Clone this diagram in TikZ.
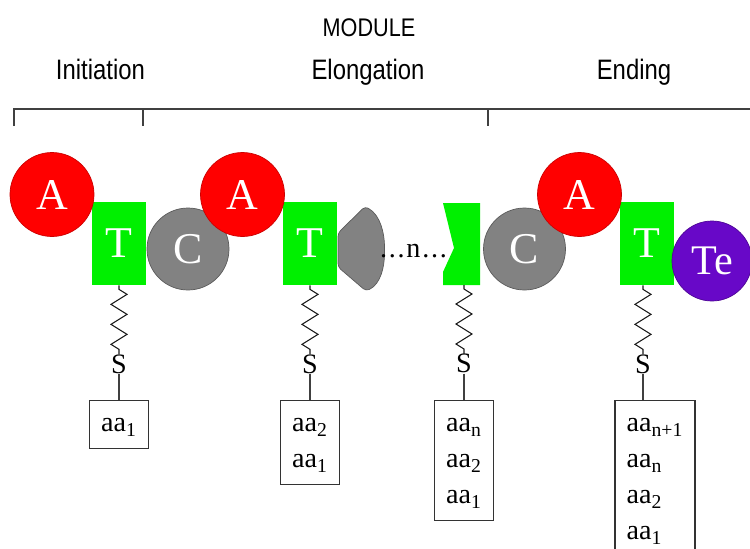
\documentclass[tikz,border=0pt]{standalone}
\usepackage{fontspec}
\setmainfont{Liberation Serif}
\newfontfamily\labelfont[FakeStretch=0.85]{Liberation Sans}
\usepackage{tikz}
\usetikzlibrary{shapes,positioning,decorations.pathmorphing}
\definecolor{domred}{RGB}{255,0,0}
\definecolor{domgreen}{RGB}{0,240,0}
\definecolor{domgray}{RGB}{130,130,130}
\definecolor{dompurple}{RGB}{104,8,200}

\begin{document}
\begin{tikzpicture}[
        adom/.style={circle, fill=domred, draw=domred!80!black, minimum size=1.68cm, inner sep=0pt, text=white, font=\fontsize{25}{25}\selectfont},
        tdom/.style={rectangle, fill=domgreen, minimum width=1.08cm, minimum height=1.66cm, inner sep=0pt, text=white, font=\fontsize{25}{25}\selectfont},
        cdom/.style={circle, fill=domgray, draw=domgray!70!black, minimum size=1.64cm, inner sep=0pt, text=white, font=\fontsize{25}{25}\selectfont},
        tedom/.style={circle, fill=dompurple, draw=dompurple!75!black, minimum size=1.6cm, inner sep=0pt, text=white, font=\fontsize{24}{24}\selectfont},
        header/.style={anchor=base, inner sep=0pt, font=\labelfont\fontsize{16}{19}\selectfont},
        thio/.style={inner sep=0pt, font=\fontsize{16}{16}\selectfont},
        aabox/.style={draw=black!80, line width=0.8pt, inner xsep=0.2cm, inner ysep=0.12cm, minimum width=1.18cm, align=center, font=\fontsize{16}{20.5}\selectfont},
        stem/.style={semithick, black!90, decorate, decoration={zigzag, segment length=0.4cm, amplitude=0.16cm, pre length=0.08cm, post length=0.06cm}},
        tether/.style={thick, black!75},
        bracket/.style={line width=1.1pt, black!75}
    ]
        \clip (0,0) rectangle (15,-10.96);

        % Headers
        \node [header, font=\labelfont\fontsize{14.5}{17}\selectfont] (module) at (7.38,-0.72) {MODULE};
        \node [header] (init) at (2.01,-1.58) {Initiation};
        \node [header] (elong) at (7.36,-1.58) {Elongation};
        \node [header] (ending) at (12.68,-1.58) {Ending};

        % Bracket
        \draw [bracket] (0.28,-2.52) -- (0.28,-2.18) -- (15,-2.18);
        \draw [bracket] (2.86,-2.18) -- (2.86,-2.52);
        \draw [bracket] (9.76,-2.18) -- (9.76,-2.52);

        % Condensation domains
        \node [cdom] (c1) at (3.76,-4.98) {C};
        \node [cdom] (c3) at (10.49,-4.98) {C};
        \draw [fill=domgray, draw=domgray!70!black, rounded corners=2pt] (6.76,-4.66) -- (7.30,-4.13) .. controls (7.62,-4.30) and (7.69,-4.70) .. (7.69,-5.00) .. controls (7.69,-5.32) and (7.62,-5.68) .. (7.32,-5.82) -- (6.76,-5.34) -- cycle;

        % Thiolation domains
        \node [tdom] (t1) at (2.38,-4.87) {T};
        \node [tdom] (t2) at (6.20,-4.87) {T};
        \node [tdom] (t3) at (12.94,-4.87) {T};
        \fill [domgreen] (8.86,-4.06) -- (9.60,-4.06) -- (9.60,-5.70) -- (8.86,-5.70) -- (8.86,-5.44) -- (9.08,-4.96) -- cycle;
        \coordinate (tn) at (9.28,-5.70);

        % Adenylation domains
        \node [adom] (a1) at (1.04,-3.89) {A};
        \node [adom] (a2) at (4.85,-3.89) {A};
        \node [adom] (a3) at (11.59,-3.89) {A};

        % Thioesterase
        \node [tedom] (te) at (14.24,-5.22) {Te};

        % Repeat
        \node [font=\fontsize{16}{16}\selectfont, inner sep=0pt] (dots) at (8.27,-5.02) {.\kern1pt.\kern1pt.\kern1pt n\kern1pt.\kern1pt.\kern1pt.};

        % Thioester links
        \node [thio, below=1.38cm of t1] (s1) {S};
        \node [thio, below=1.38cm of t2] (s2) {S};
        \node [thio, below=1.38cm of tn] (sn) {S};
        \node [thio, below=1.38cm of t3, xshift=-0.08cm] (s3) {S};
        \draw [stem] (t1.south) -- (s1.north);
        \draw [stem] (t2.south) -- (s2.north);
        \draw [stem] (tn) -- (sn.north);
        \draw [stem] (s3.north |- t3.south) -- (s3.north);

        % Peptide chains
        \node [aabox, below=0.52cm of s1] (b1) {\strut aa\textsubscript{1}};
        \node [aabox, below=0.52cm of s2] (b2) {\strut aa\textsubscript{2}\\\strut aa\textsubscript{1}};
        \node [aabox, below=0.52cm of sn] (bn) {\strut aa\textsubscript{n}\\\strut aa\textsubscript{2}\\\strut aa\textsubscript{1}};
        \node [aabox, align=left, minimum width=1.6cm, below=0.52cm of s3, xshift=0.24cm] (b3) {\strut aa\textsubscript{n+1}\\\strut aa\textsubscript{n}\\\strut aa\textsubscript{2}\\\strut aa\textsubscript{1}};
        \draw [tether] (s1.south) -- (b1.north);
        \draw [tether] (s2.south) -- (b2.north);
        \draw [tether] (sn.south) -- (bn.north);
        \draw [tether] (s3.south) -- (s3.south |- b3.north);
    \end{tikzpicture}
\end{document}
